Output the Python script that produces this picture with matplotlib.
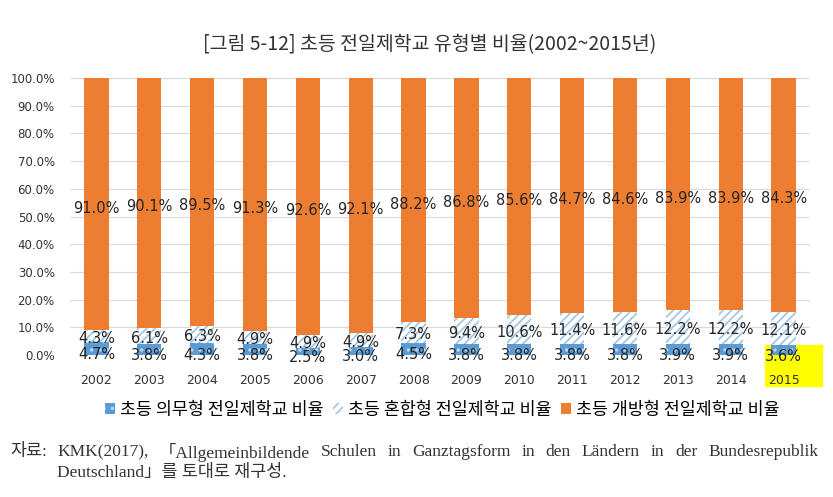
import numpy as np
import matplotlib.pyplot as plt
from matplotlib.patches import Rectangle

plt.rcParams['font.family'] = ['Noto Sans CJK KR', 'DejaVu Sans']
plt.rcParams['hatch.linewidth'] = 1.2

# data
years = ['2002', '2003', '2004', '2005', '2006', '2007', '2008',
         '2009', '2010', '2011', '2012', '2013', '2014', '2015']
compulsory = [4.7, 3.8, 4.3, 3.8, 2.5, 3.0, 4.5, 3.8, 3.8, 3.8, 3.8, 3.9, 3.9, 3.6]
mixed = [4.3, 6.1, 6.3, 4.9, 4.9, 4.9, 7.3, 9.4, 10.6, 11.4, 11.6, 12.2, 12.2, 12.1]
open_type = [91.0, 90.1, 89.5, 91.3, 92.6, 92.1, 88.2, 86.8, 85.6, 84.7, 84.6, 83.9, 83.9, 84.3]
names = ['초등 의무형 전일제학교 비율', '초등 혼합형 전일제학교 비율', '초등 개방형 전일제학교 비율']

W, H = 833, 497
fig = plt.figure(figsize=(W / 100, H / 100), dpi=100)
ax = fig.add_axes([70 / W, 1 - 355 / H, 740 / W, 277 / H])
ax.patch.set_alpha(0)

x = np.arange(len(years))
w = 0.46
c = np.array(compulsory)
m = np.array(mixed)
o = np.array(open_type)

b1 = ax.bar(x, c, w, color='#5B9BD5', edgecolor='#BDD7EE', hatch='..', linewidth=0, label=names[0])
b2 = ax.bar(x, m, w, bottom=c, color='white', edgecolor='#9DC3E6', hatch='////', linewidth=0, label=names[1])
b3 = ax.bar(x, o, w, bottom=c + m, color='#ED7D31', linewidth=0, label=names[2])

# yellow highlight round the 2015 label
fig.patches.append(Rectangle((765 / W, 1 - 386 / H), 57 / W, 41 / H,
                             transform=fig.transFigure, color='#FFFF00', zorder=-1))

lab = dict(ha='center', va='center', fontsize=10.5, family=['DejaVu Sans'], color='#262626')
for i in range(len(years)):
    ax.text(x[i], c[i] / 2 - 2.2, '%.1f%%' % c[i], **lab)
    ax.text(x[i], c[i] + m[i] / 2 - 0.8, '%.1f%%' % m[i], **lab)
    ax.text(x[i], c[i] + m[i] + o[i] / 2 - 1.5, '%.1f%%' % o[i], **lab)

ax.set_xlim(-0.5, len(years) - 0.5)
ax.set_ylim(0, 100)
ax.set_yticks(np.arange(0, 101, 10))
ax.set_yticklabels(['%.1f%%' % v for v in np.arange(0, 101, 10)], fontsize=8.5,
                   family=['DejaVu Sans'], color='#333333')
ax.set_xticks(x)
ax.set_xticklabels(years, fontsize=9, family=['DejaVu Sans'], color='#333333')
ax.tick_params(axis='y', length=0, pad=11)
ax.tick_params(axis='x', length=0, pad=14)
ax.grid(axis='y', color='#D9D9D9', linewidth=0.8)
ax.set_axisbelow(True)
for s in ax.spines.values():
    s.set_visible(False)

fig.text(0.516, 1 - 45 / H, '[그림 5-12] 초등 전일제학교 유형별 비율(2002~2015년)', ha='center', va='center',
         fontsize=14, color='#333333')

fig.legend(handles=[b1, b2, b3], labels=names, loc='center', bbox_to_anchor=(0.531, 1 - 410 / H), ncol=3,
           frameon=False, fontsize=12.5, handlelength=0.6, handleheight=0.6, handletextpad=0.3,
           columnspacing=0.5)

# footnote, first line justified to the right edge
foot = ['Liberation Serif', 'Noto Sans CJK KR']
fs = 12.5
fig.text(10 / W, 1 - 452 / H, '자료:', fontsize=fs, family=foot, color='#333333', va='center')
words = 'KMK(2017), 「Allgemeinbildende Schulen in Ganztagsform in den Ländern in der Bundesrepublik'.split(' ')
r = fig.canvas.get_renderer()
ts = [fig.text(0, 1 - 452 / H, wd, fontsize=fs, family=foot, color='#333333', va='center') for wd in words]
widths = [t.get_window_extent(r).width for t in ts]
x0, x1 = 57, 818
gap = (x1 - x0 - sum(widths)) / (len(words) - 1)
pos = x0
for t, wd in zip(ts, widths):
    t.set_x(pos / W)
    pos += wd + gap
fig.text(57 / W, 1 - 473 / H, 'Deutschland」를 토대로 재구성.', fontsize=fs, family=foot, color='#333333', va='center')

fig.savefig('out.png', dpi=100)
